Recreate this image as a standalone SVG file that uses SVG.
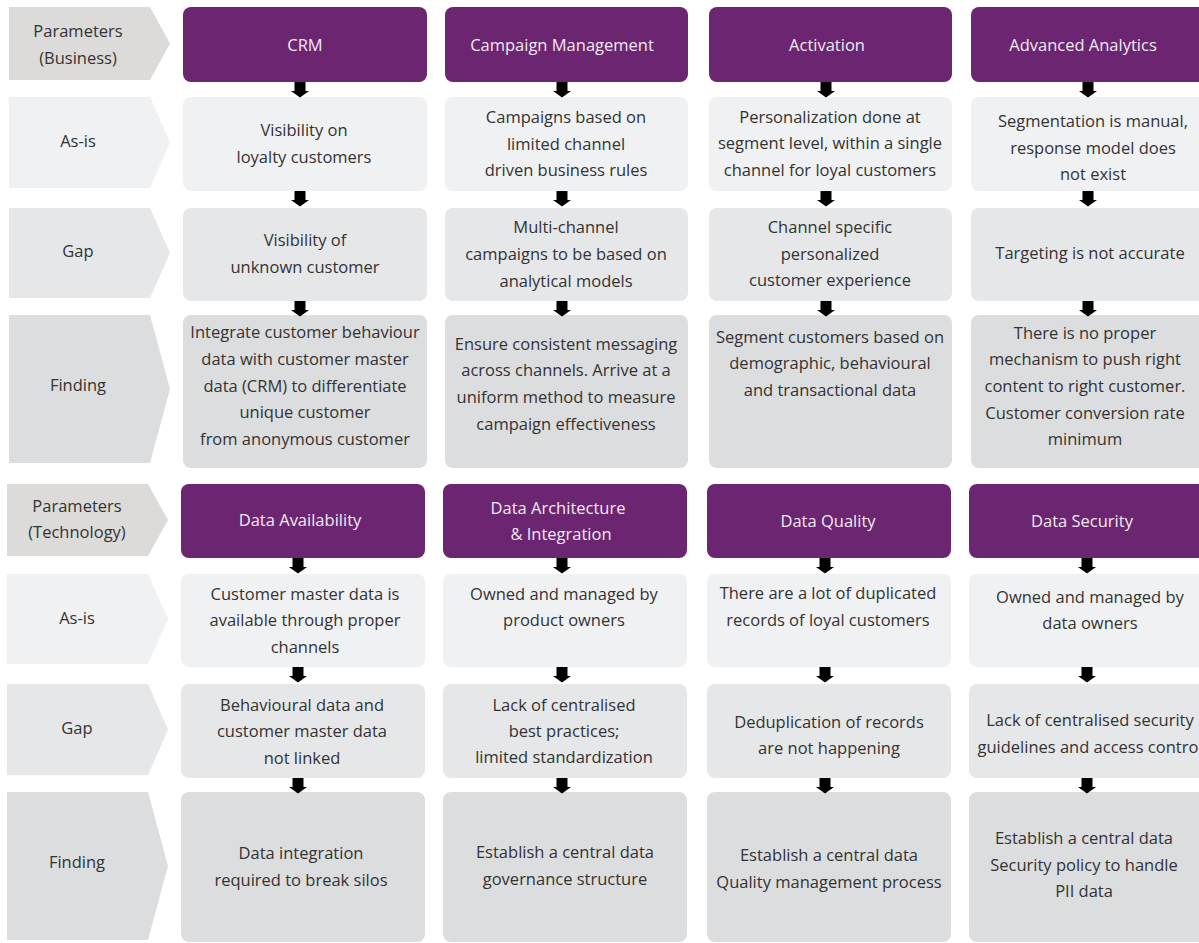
<svg xmlns="http://www.w3.org/2000/svg" width="1199" height="943" viewBox="0 0 1199 943">
<style>
text{font-family:"Open Sans","Noto Sans","Liberation Sans",sans-serif;font-size:16.5px;fill:#333;text-anchor:middle}
.h text{fill:#f1eaf3}
.h rect{fill:#6c2570}
.lp{fill:#dcdbd9}
.la{fill:#f0f1f3}
.lg{fill:#e6e7e9}
.lf{fill:#dcdddf}
</style>
<defs>
<path id="arr" d="M-5.5,0 h11 v9 h3.5 L0,15.5 L-9,9 h3.5 z" fill="#000"/>
</defs>
<rect width="1199" height="943" fill="#fff"/>

<!-- Section 1 labels -->
<g id="lbl-param-bus"><polygon class="lp" points="9,7 150,7 170,43.5 150,80 9,80"/><text x="78" y="37">Parameters</text><text x="78" y="64">(Business)</text></g>
<g id="lbl-asis-1"><polygon class="la" points="9,97 150,97 170,142.5 150,188 9,188"/><text x="78" y="147">As-is</text></g>
<g id="lbl-gap-1"><polygon class="lg" points="9,208 150,208 170,253 150,298 9,298"/><text x="78" y="257">Gap</text></g>
<g id="lbl-find-1"><polygon class="lf" points="9,315 150,315 170,389 150,463 9,463"/><text x="78" y="391">Finding</text></g>

<!-- Section 1 headers -->
<g id="h-crm" class="h"><rect x="183" y="7" width="244" height="75" rx="8"/><text x="305" y="51">CRM</text></g>
<g id="h-campaign" class="h"><rect x="445" y="7" width="243" height="75" rx="8"/><text x="562" y="51">Campaign Management</text></g>
<g id="h-activation" class="h"><rect x="709" y="7" width="243" height="75" rx="8"/><text x="827" y="51">Activation</text></g>
<g id="h-analytics" class="h"><rect x="971" y="7" width="244" height="75" rx="8"/><text x="1083" y="51">Advanced Analytics</text></g>

<!-- Section 1 As-is -->
<g id="a-crm"><rect class="la" x="183" y="97" width="244" height="94" rx="8"/><text x="304" y="136">Visibility on</text><text x="304" y="163">loyalty customers</text></g>
<g id="a-campaign"><rect class="la" x="445" y="97" width="243" height="94" rx="8"/><text x="566" y="123">Campaigns based on</text><text x="566" y="150">limited channel</text><text x="566" y="176">driven business rules</text></g>
<g id="a-activation"><rect class="la" x="709" y="97" width="243" height="94" rx="8"/><text x="830" y="123">Personalization done at</text><text x="830" y="149">segment level, within a single</text><text x="830" y="176">channel for loyal customers</text></g>
<g id="a-analytics"><rect class="la" x="971" y="97" width="244" height="94" rx="8"/><text x="1093" y="127">Segmentation is manual,</text><text x="1093" y="154">response model does</text><text x="1093" y="180">not exist</text></g>

<!-- Section 1 Gap -->
<g id="g-crm"><rect class="lg" x="183" y="208" width="244" height="93" rx="8"/><text x="305" y="246">Visibility of</text><text x="305" y="273">unknown customer</text></g>
<g id="g-campaign"><rect class="lg" x="445" y="208" width="243" height="93" rx="8"/><text x="566" y="233">Multi-channel</text><text x="566" y="260">campaigns to be based on</text><text x="566" y="287">analytical models</text></g>
<g id="g-activation"><rect class="lg" x="709" y="208" width="243" height="93" rx="8"/><text x="830" y="233">Channel specific</text><text x="830" y="260">personalized</text><text x="830" y="286">customer experience</text></g>
<g id="g-analytics"><rect class="lg" x="971" y="208" width="244" height="93" rx="8"/><text x="1090" y="259">Targeting is not accurate</text></g>

<!-- Section 1 Finding -->
<g id="f-crm"><rect class="lf" x="183" y="315" width="244" height="153" rx="8"/><text x="305" y="338">Integrate customer behaviour</text><text x="305" y="365">data with customer master</text><text x="305" y="392">data (CRM) to differentiate</text><text x="305" y="418">unique customer</text><text x="305" y="445">from anonymous customer</text></g>
<g id="f-campaign"><rect class="lf" x="445" y="315" width="243" height="153" rx="8"/><text x="566" y="350">Ensure consistent messaging</text><text x="566" y="376">across channels. Arrive at a</text><text x="566" y="403">uniform method to measure</text><text x="566" y="430">campaign effectiveness</text></g>
<g id="f-activation"><rect class="lf" x="709" y="315" width="243" height="153" rx="8"/><text x="830" y="343">Segment customers based on</text><text x="830" y="369">demographic, behavioural</text><text x="830" y="396">and transactional data</text></g>
<g id="f-analytics"><rect class="lf" x="971" y="315" width="244" height="153" rx="8"/><text x="1085" y="339">There is no proper</text><text x="1085" y="365">mechanism to push right</text><text x="1085" y="392">content to right customer.</text><text x="1085" y="419">Customer conversion rate</text><text x="1085" y="445">minimum</text></g>

<!-- Section 2 labels -->
<g id="lbl-param-tech"><polygon class="lp" points="7,484 148,484 168,520 148,556 7,556"/><text x="77" y="512">Parameters</text><text x="77" y="538">(Technology)</text></g>
<g id="lbl-asis-2"><polygon class="la" points="7,574 148,574 168,619 148,664 7,664"/><text x="77" y="624">As-is</text></g>
<g id="lbl-gap-2"><polygon class="lg" points="7,684 148,684 168,729.5 148,775 7,775"/><text x="77" y="734">Gap</text></g>
<g id="lbl-find-2"><polygon class="lf" points="7,792 148,792 168,866 148,940 7,940"/><text x="77" y="868">Finding</text></g>

<!-- Section 2 headers -->
<g id="h-availability" class="h"><rect x="181" y="484" width="244" height="74" rx="8"/><text x="300" y="526">Data Availability</text></g>
<g id="h-architecture" class="h"><rect x="443" y="484" width="244" height="74" rx="8"/><text x="558" y="514">Data Architecture</text><text x="561" y="540">&amp; Integration</text></g>
<g id="h-quality" class="h"><rect x="707" y="484" width="244" height="74" rx="8"/><text x="828" y="527">Data Quality</text></g>
<g id="h-security" class="h"><rect x="969" y="484" width="244" height="74" rx="8"/><text x="1082" y="527">Data Security</text></g>

<!-- Section 2 As-is -->
<g id="a-availability"><rect class="la" x="181" y="574" width="244" height="93" rx="8"/><text x="305" y="600">Customer master data is</text><text x="305" y="626">available through proper</text><text x="305" y="653">channels</text></g>
<g id="a-architecture"><rect class="la" x="443" y="574" width="244" height="93" rx="8"/><text x="564" y="600">Owned and managed by</text><text x="564" y="626">product owners</text></g>
<g id="a-quality"><rect class="la" x="707" y="574" width="244" height="93" rx="8"/><text x="828" y="599">There are a lot of duplicated</text><text x="828" y="626">records of loyal customers</text></g>
<g id="a-security"><rect class="la" x="969" y="574" width="244" height="93" rx="8"/><text x="1090" y="603">Owned and managed by</text><text x="1090" y="629">data owners</text></g>

<!-- Section 2 Gap -->
<g id="g-availability"><rect class="lg" x="181" y="684" width="244" height="94" rx="8"/><text x="302" y="711">Behavioural data and</text><text x="302" y="737">customer master data</text><text x="302" y="764">not linked</text></g>
<g id="g-architecture"><rect class="lg" x="443" y="684" width="244" height="94" rx="8"/><text x="564" y="711">Lack of centralised</text><text x="564" y="737">best practices;</text><text x="564" y="763">limited standardization</text></g>
<g id="g-quality"><rect class="lg" x="707" y="684" width="244" height="94" rx="8"/><text x="829" y="728">Deduplication of records</text><text x="829" y="754">are not happening</text></g>
<g id="g-security"><rect class="lg" x="969" y="684" width="244" height="94" rx="8"/><text x="1090" y="726">Lack of centralised security</text><text x="1090" y="753">guidelines and access control</text></g>

<!-- Section 2 Finding -->
<g id="f-availability"><rect class="lf" x="181" y="792" width="244" height="150" rx="8"/><text x="301" y="859">Data integration</text><text x="301" y="886">required to break silos</text></g>
<g id="f-architecture"><rect class="lf" x="443" y="792" width="244" height="150" rx="8"/><text x="565" y="858">Establish a central data</text><text x="565" y="885">governance structure</text></g>
<g id="f-quality"><rect class="lf" x="707" y="792" width="244" height="150" rx="8"/><text x="829" y="861">Establish a central data</text><text x="829" y="888">Quality management process</text></g>
<g id="f-security"><rect class="lf" x="969" y="792" width="244" height="150" rx="8"/><text x="1084" y="844">Establish a central data</text><text x="1084" y="871">Security policy to handle</text><text x="1084" y="897">PII data</text></g>

<!-- Connectors -->
<g id="connectors">
<use href="#arr" x="300" y="82"/><use href="#arr" x="562" y="82"/><use href="#arr" x="826" y="82"/><use href="#arr" x="1088" y="82"/>
<use href="#arr" x="300" y="191"/><use href="#arr" x="562" y="191"/><use href="#arr" x="826" y="191"/><use href="#arr" x="1088" y="191"/>
<use href="#arr" x="300" y="301"/><use href="#arr" x="562" y="301"/><use href="#arr" x="826" y="301"/><use href="#arr" x="1088" y="301"/>
<use href="#arr" x="298" y="558"/><use href="#arr" x="562" y="558"/><use href="#arr" x="825" y="558"/><use href="#arr" x="1087" y="558"/>
<use href="#arr" x="298" y="667"/><use href="#arr" x="562" y="667"/><use href="#arr" x="825" y="667"/><use href="#arr" x="1087" y="667"/>
<use href="#arr" x="298" y="778"/><use href="#arr" x="562" y="778"/><use href="#arr" x="825" y="778"/><use href="#arr" x="1087" y="778"/>
</g>
</svg>
